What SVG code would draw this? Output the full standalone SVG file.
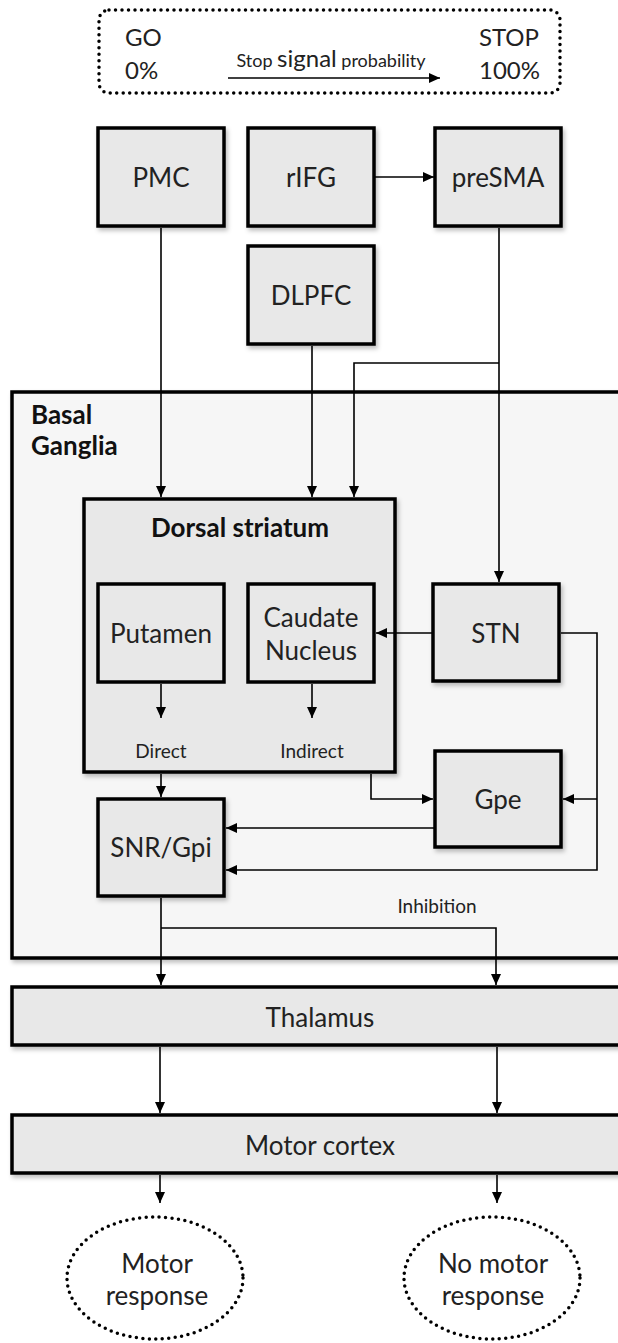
<svg xmlns="http://www.w3.org/2000/svg" width="618" height="1343" viewBox="0 0 618 1343">
<style>
.node{fill:#e8e8e8;stroke:#000;stroke-width:3.5}
.bg{fill:#f6f6f6;stroke:#000;stroke-width:3.5}
.lbl{font-family:Lato,"Open Sans",sans-serif;font-size:26px;fill:#222;text-anchor:middle}
.top{font-family:Lato,"Open Sans",sans-serif;font-size:24px;fill:#222}
.bold{font-family:Lato,"Open Sans",sans-serif;font-weight:bold;font-size:26px;fill:#111}
.small{font-family:Lato,"Open Sans",sans-serif;font-size:19px;fill:#222;text-anchor:middle}
.con{fill:none;stroke:#000;stroke-width:1.6}
.dot{fill:none;stroke:#000;stroke-width:3.5;stroke-linecap:round;stroke-dasharray:0 6.5}
</style>
<defs>
<marker id="ah" markerUnits="userSpaceOnUse" markerWidth="12" markerHeight="12" refX="11" refY="5" orient="auto">
<path d="M0,0 L11,5 L0,10 z" fill="#000"/>
</marker>
<filter id="sh" x="-10%" y="-10%" width="130%" height="130%">
<feDropShadow dx="2" dy="3" stdDeviation="2" flood-color="#000" flood-opacity="0.25"/>
</filter>
</defs>
<rect width="618" height="1343" fill="#fff"/>

<g id="legend">
<rect class="dot" x="99" y="10" width="461" height="83" rx="10"/>
<text class="top" x="125" y="46">GO</text>
<text class="top" x="125" y="79">0%</text>
<text class="top" x="539" y="46" style="text-anchor:end">STOP</text>
<text class="top" x="540" y="79" style="text-anchor:end">100%</text>
<text x="331" y="67" style="font-family:Lato,'Open Sans',sans-serif;fill:#222;text-anchor:middle"><tspan font-size="18">Stop </tspan><tspan font-size="24">signal</tspan><tspan font-size="18"> probability</tspan></text>
<path class="con" d="M228 78 H440" marker-end="url(#ah)"/>
</g>

<g id="basal-ganglia">
<rect class="bg" x="12" y="392" width="630" height="566" filter="url(#sh)"/>
<text class="bold" x="31" y="424">Basal</text>
<text class="bold" x="31" y="455">Ganglia</text>
</g>

<g id="pmc"><rect class="node" x="98" y="128" width="126" height="98" filter="url(#sh)"/><text class="lbl" x="161" y="187">PMC</text></g>
<g id="rifg"><rect class="node" x="248" y="128" width="126" height="98" filter="url(#sh)"/><text class="lbl" x="311" y="187">rIFG</text></g>
<g id="presma"><rect class="node" x="435" y="128" width="126" height="98" filter="url(#sh)"/><text class="lbl" x="498" y="187">preSMA</text></g>
<g id="dlpfc"><rect class="node" x="248" y="246" width="126" height="98" filter="url(#sh)"/><text class="lbl" x="311" y="305">DLPFC</text></g>

<g id="dorsal-striatum">
<rect class="node" x="84" y="499" width="311" height="273" filter="url(#sh)"/>
<text class="bold" x="240" y="537" style="text-anchor:middle">Dorsal striatum</text>
<text class="small" x="161" y="758">Direct</text>
<text class="small" x="312" y="758">Indirect</text>
</g>
<g id="putamen"><rect class="node" x="98" y="584" width="126" height="98"/><text class="lbl" x="161" y="643">Putamen</text></g>
<g id="caudate"><rect class="node" x="248" y="584" width="126" height="98"/><text class="lbl" x="311" y="627">Caudate</text><text class="lbl" x="311" y="660">Nucleus</text></g>
<g id="stn"><rect class="node" x="433" y="584" width="126" height="97" filter="url(#sh)"/><text class="lbl" x="496" y="643">STN</text></g>
<g id="gpe"><rect class="node" x="435" y="751" width="126" height="96" filter="url(#sh)"/><text class="lbl" x="498" y="809">Gpe</text></g>
<g id="snr-gpi"><rect class="node" x="98" y="799" width="126" height="97" filter="url(#sh)"/><text class="lbl" x="161" y="857">SNR/Gpi</text></g>

<g id="thalamus"><rect class="node" x="12" y="987" width="630" height="58" filter="url(#sh)"/><text class="lbl" x="320" y="1027">Thalamus</text></g>
<g id="motor-cortex"><rect class="node" x="12" y="1115" width="630" height="58" filter="url(#sh)"/><text class="lbl" x="320" y="1155">Motor cortex</text></g>

<g id="motor-response"><ellipse class="dot" cx="155" cy="1278" rx="88" ry="61"/><text class="lbl" x="157" y="1273">Motor</text><text class="lbl" x="157" y="1305">response</text></g>
<g id="no-motor-response"><ellipse class="dot" cx="492" cy="1278" rx="88" ry="61"/><text class="lbl" x="493" y="1273">No motor</text><text class="lbl" x="493" y="1305">response</text></g>

<g id="inhibition-label"><text class="small" x="437" y="913">Inhibition</text></g>

<g id="connectors">
<path class="con" d="M374 177 H434" marker-end="url(#ah)"/>
<path class="con" d="M161 228 V497" marker-end="url(#ah)"/>
<path class="con" d="M312 346 V497" marker-end="url(#ah)"/>
<path class="con" d="M499 228 V582" marker-end="url(#ah)"/>
<path class="con" d="M499 363 H354 V497" marker-end="url(#ah)"/>
<path class="con" d="M433 633 H376" marker-end="url(#ah)"/>
<path class="con" d="M161 684 V718" marker-end="url(#ah)"/>
<path class="con" d="M312 684 V718" marker-end="url(#ah)"/>
<path class="con" d="M161 774 V797" marker-end="url(#ah)"/>
<path class="con" d="M371 774 V799 H433" marker-end="url(#ah)"/>
<path class="con" d="M561 633 H597 V870 H226" marker-end="url(#ah)"/>
<path class="con" d="M597 799 H563" marker-end="url(#ah)"/>
<path class="con" d="M435 828 H226" marker-end="url(#ah)"/>
<path class="con" d="M161 898 V985" marker-end="url(#ah)"/>
<path class="con" d="M161 928 H496 V985" marker-end="url(#ah)"/>
<path class="con" d="M160 1047 V1113" marker-end="url(#ah)"/>
<path class="con" d="M497 1047 V1113" marker-end="url(#ah)"/>
<path class="con" d="M160 1175 V1203" marker-end="url(#ah)"/>
<path class="con" d="M497 1175 V1203" marker-end="url(#ah)"/>
</g>
</svg>
